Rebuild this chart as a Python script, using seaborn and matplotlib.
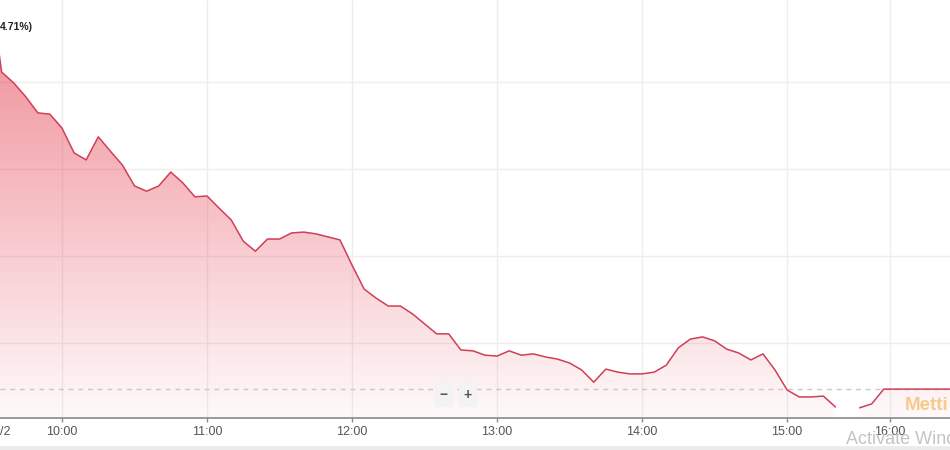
import numpy as np
import pandas as pd
import matplotlib
matplotlib.use("Agg")
import matplotlib.pyplot as plt
from matplotlib.path import Path
import seaborn as sns

# Intraday price, one sample every 5 minutes from 09:30 (NaN = missing sample)
PRICE = [
    20.830, 20.623, 20.598, 20.566, 20.529, 20.526, 20.494, 20.437, 20.421, 20.474,
    20.441, 20.409, 20.361, 20.349, 20.361, 20.393, 20.368, 20.336, 20.338, 20.310,
    20.283, 20.234, 20.211, 20.239, 20.239, 20.253, 20.255, 20.251, 20.244, 20.237,
    20.179, 20.124, 20.103, 20.085, 20.085, 20.067, 20.044, 20.021, 20.021, 19.984,
    19.982, 19.972, 19.970, 19.982, 19.972, 19.975, 19.968, 19.963, 19.954, 19.938,
    19.910, 19.940, 19.933, 19.929, 19.929, 19.933, 19.949, 19.989, 20.009, 20.014,
    20.005, 19.986, 19.977, 19.961, 19.975, 19.938, 19.892, 19.876, 19.876, 19.878,
    19.853, np.nan, 19.851, 19.860, 19.894, 19.894, 19.894, 19.894, 19.894, 19.894,
    19.894,
]
START_MINUTE = 9 * 60 + 30
STEP_MINUTES = 5

REF_PRICE = 19.894
GRID_LEVELS = [20.0, 20.2, 20.4, 20.6]
TICK_MINUTES = [600, 660, 720, 780, 840, 900, 942.6]
TICK_LABELS = ["10:00", "11:00", "12:00", "13:00", "14:00", "15:00", "16:00"]

LINE_COLOR = "#cf3f58"
FILL_RGB = (0.90, 0.25, 0.31)

sns.set_style("white")
plt.rcParams["font.family"] = ["Liberation Sans", "DejaVu Sans"]

df = pd.DataFrame({"price": PRICE})
df["minute"] = START_MINUTE + STEP_MINUTES * np.arange(len(df))
df["segment"] = df["price"].isna().cumsum()
line_df = df.dropna()

fig = plt.figure(figsize=(9.5, 4.5), dpi=100)
ax = fig.add_axes([0, 32 / 450, 1, 418 / 450])

xlim = (574.34, 967.4)
ylim = (19.8276, 20.7885)

# area under the line with a vertical gradient
area = ax.fill_between(df["minute"], df["price"], ylim[0],
                       facecolor="none", edgecolor="none")
grad = np.zeros((256, 1, 4))
grad[..., 0], grad[..., 1], grad[..., 2] = FILL_RGB
grad[:, 0, 3] = np.linspace(0.03, 0.62, 256)
im = ax.imshow(grad, extent=[xlim[0], xlim[1], ylim[0], ylim[1]],
               origin="lower", aspect="auto", zorder=1, interpolation="bilinear")
clip = Path.make_compound_path(*area.get_paths())
im.set_clip_path(clip, transform=ax.transData)

sns.lineplot(data=line_df, x="minute", y="price", units="segment", estimator=None,
             color=LINE_COLOR, linewidth=1.1, ax=ax, zorder=3)

ax.axhline(REF_PRICE, color="#c8c8c8", linewidth=1, dashes=(3.5, 3.5), zorder=2)

ax.set_xlim(*xlim)
ax.set_ylim(*ylim)
ax.set_xticks(TICK_MINUTES)
ax.set_xticklabels(TICK_LABELS)
ax.set_yticks(GRID_LEVELS)
ax.set_yticklabels([])
ax.set_xlabel("")
ax.set_ylabel("")
ax.grid(True, color="#eeeeee", linewidth=1)
ax.set_axisbelow(True)
for side in ["top", "left", "right"]:
    ax.spines[side].set_visible(False)
ax.spines["bottom"].set_color("#8a8a8a")
ax.spines["bottom"].set_linewidth(1.2)
ax.tick_params(axis="x", bottom=True, length=3, width=1, color="#8a8a8a",
               labelsize=9, labelcolor="#555555", pad=3)
ax.tick_params(axis="y", left=False, length=0)

# decorations visible in the screenshot
fig.text(0.0, 1 - 27 / 450, "4.71%)", fontsize=7.5, fontweight="bold",
         color="#222222", va="center", ha="left")
fig.text(0.0, 1 - 432 / 450, "/2", fontsize=9, color="#555555",
         va="center", ha="left")
for label, xp in [("\u2212", 444), ("+", 468)]:
    fig.text(xp / 950, 1 - 395 / 450, label, fontsize=10, fontweight="bold",
             color="#555555", ha="center", va="center",
             bbox=dict(boxstyle="square,pad=0.35", facecolor="#f3f3f3",
                       edgecolor="none"))
fig.text(905 / 950, 1 - 405 / 450, "Metti", fontsize=13.5, fontweight="bold",
         color="#f7c98e", ha="left", va="center")
fig.text(846 / 950, 1 - 439 / 450, "Activate Windows", fontsize=13,
         color="#c4c4c4", ha="left", va="center")
fig.patches.append(plt.Rectangle((0, 0), 1, 4 / 450, transform=fig.transFigure,
                                 facecolor="#ececec", edgecolor="none"))

fig.savefig("out.png", dpi=100)
plt.close(fig)
